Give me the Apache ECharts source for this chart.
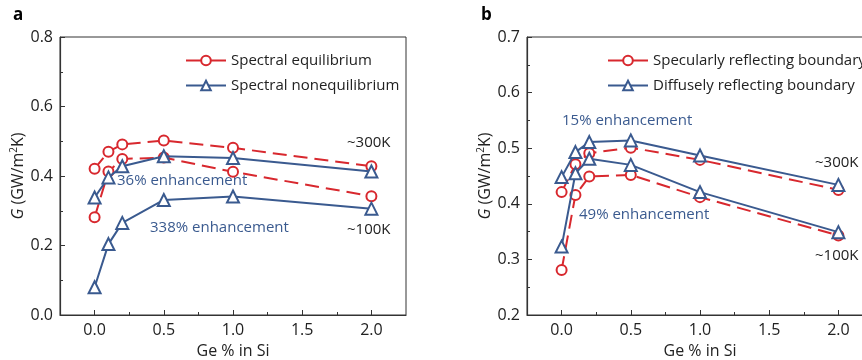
<!DOCTYPE html>
<html>
<head>
<meta charset="utf-8">
<script src="https://cdn.jsdelivr.net/npm/echarts@6/dist/echarts.min.js"></script>
<style>
  html, body { margin: 0; padding: 0; background: #fff; }
  #chart { width: 862px; height: 360px; }
</style>
</head>
<body>
<div id="chart"></div>
<script>
// Ge content (%) shared by both panels
const geX = [0, 0.1, 0.2, 0.5, 1.0, 2.0]
const xMajorTicks = [0, 0.5, 1.0, 1.5, 2.0]
const xMinorTicks = [0.25, 0.75, 1.25, 1.75]

// panel a
const aEq300 = [0.421, 0.470, 0.491, 0.502, 0.481, 0.428]
const aEq100 = [0.281, 0.413, 0.449, 0.453, 0.412, 0.342]
const aNon300 = [0.338, 0.396, 0.428, 0.457, 0.452, 0.413]
const aNon100 = [0.080, 0.204, 0.265, 0.331, 0.341, 0.306]

// panel b
const bSpec300 = [0.421, 0.471, 0.491, 0.501, 0.479, 0.425]
const bSpec100 = [0.281, 0.416, 0.449, 0.452, 0.412, 0.343]
const bDiff300 = [0.448, 0.493, 0.511, 0.514, 0.487, 0.434]
const bDiff100 = [0.323, 0.455, 0.481, 0.470, 0.421, 0.349]

const red = '#d8282e'
const blue = '#3a5a8f'
const ink = '#222'
const font = '"Open Sans", sans-serif'

function pairs(ys) {
  return geX.map((x, i) => [x, ys[i]])
}

function redSeries(name, ys, idx) {
  return {
    name: name,
    type: 'line',
    xAxisIndex: idx * 2,
    yAxisIndex: idx,
    data: pairs(ys),
    symbol: 'emptyCircle',
    symbolSize: 10,
    color: red,
    lineStyle: { color: red, width: 2, type: [14, 7] },
    itemStyle: { color: red, borderColor: red, borderWidth: 2 },
    emphasis: { disabled: true },
    z: 2,
  }
}

function blueSeries(name, ys, idx) {
  return {
    name: name,
    type: 'line',
    xAxisIndex: idx * 2,
    yAxisIndex: idx,
    data: pairs(ys),
    symbol: 'emptyTriangle',
    symbolSize: 12,
    color: blue,
    lineStyle: { color: blue, width: 2 },
    itemStyle: { color: blue, borderColor: blue, borderWidth: 2 },
    emphasis: { disabled: true },
    z: 3,
  }
}

function xAxes(gridIndex) {
  return [
    {
      type: 'value',
      gridIndex: gridIndex,
      min: -0.25,
      max: 2.25,
      name: 'Ge % in Si',
      nameLocation: 'middle',
      nameGap: 28,
      nameTextStyle: { fontFamily: font, fontSize: 16, color: ink },
      axisLine: { show: true, onZero: false, lineStyle: { color: '#333', width: 1.2 } },
      axisTick: { show: true, inside: true, length: 5, customValues: xMajorTicks, lineStyle: { color: '#333' } },
      axisLabel: {
        customValues: xMajorTicks,
        formatter: (v) => v.toFixed(1),
        fontFamily: font, fontSize: 16, color: ink, margin: 7,
      },
      splitLine: { show: false },
    },
    {
      type: 'value',
      gridIndex: gridIndex,
      min: -0.25,
      max: 2.25,
      position: 'bottom',
      axisLine: { show: false, onZero: false },
      axisTick: { show: true, inside: true, length: 3, customValues: xMinorTicks, lineStyle: { color: '#333' } },
      axisLabel: { show: false },
      splitLine: { show: false },
    },
  ]
}

function yAxis(gridIndex, min, max, interval) {
  return {
    type: 'value',
    gridIndex: gridIndex,
    min: min,
    max: max,
    interval: interval,
    name: '{i|G} (GW/m{sup|2}K)',
    nameLocation: 'middle',
    nameGap: 29,
    nameTextStyle: {
      fontFamily: font, fontSize: 16, color: ink,
      rich: {
        i: { fontFamily: font, fontSize: 16, fontStyle: 'italic', color: ink },
        sup: { fontFamily: font, fontSize: 10, color: ink, verticalAlign: 'bottom', padding: [0, 0, 8, 0] },
      },
    },
    axisLine: { show: true, onZero: false, lineStyle: { color: '#333', width: 1.2 } },
    axisTick: { show: true, inside: true, length: 5, lineStyle: { color: '#333' } },
    minorTick: { show: true, splitNumber: 2, length: 3, lineStyle: { color: '#333' } },
    axisLabel: {
      formatter: (v) => v.toFixed(1),
      fontFamily: font, fontSize: 16, color: ink, margin: 7,
    },
    splitLine: { show: false },
  }
}

function note(text, x, y, color) {
  return {
    type: 'text',
    left: x,
    top: y,
    style: { text: text, fill: color, font: '15px ' + font },
  }
}

const legendText = { fontFamily: font, fontSize: 15, color: ink }

const option = {
  animation: false,
  backgroundColor: '#fff',
  grid: [
    { left: 60, top: 37, width: 346, height: 278, outerBoundsMode: 'none', show: true, borderColor: '#333', borderWidth: 1 },
    { left: 527, top: 37, width: 346, height: 278, outerBoundsMode: 'none', show: true, borderColor: '#333', borderWidth: 1 },
  ],
  xAxis: [...xAxes(0), ...xAxes(1)],
  yAxis: [yAxis(0, 0, 0.8, 0.2), yAxis(1, 0.2, 0.7, 0.1)],
  legend: [
    {
      orient: 'vertical',
      left: 180, top: 48,
      itemWidth: 40, itemHeight: 12, itemGap: 10,
      textStyle: legendText,
      lineStyle: { type: 'solid' },
      data: ['Spectral equilibrium', 'Spectral nonequilibrium'],
      selectedMode: false,
    },
    {
      orient: 'vertical',
      left: 602, top: 48,
      itemWidth: 40, itemHeight: 12, itemGap: 10,
      textStyle: legendText,
      lineStyle: { type: 'solid' },
      data: ['Specularly reflecting boundary', 'Diffusely reflecting boundary'],
      selectedMode: false,
    },
  ],
  series: [
    redSeries('Spectral equilibrium', aEq300, 0),
    redSeries('Spectral equilibrium', aEq100, 0),
    blueSeries('Spectral nonequilibrium', aNon300, 0),
    blueSeries('Spectral nonequilibrium', aNon100, 0),
    redSeries('Specularly reflecting boundary', bSpec300, 1),
    redSeries('Specularly reflecting boundary', bSpec100, 1),
    blueSeries('Diffusely reflecting boundary', bDiff300, 1),
    blueSeries('Diffusely reflecting boundary', bDiff100, 1),
  ],
  graphic: [
    { type: 'text', left: 13, top: 7, style: { text: 'a', fill: '#000', font: 'bold 17px ' + font } },
    { type: 'text', left: 481, top: 7, style: { text: 'b', fill: '#000', font: 'bold 17px ' + font } },
    note('~300K', 347, 135, ink),
    note('~100K', 347, 222, ink),
    note('36% enhancement', 117, 173, blue),
    note('338% enhancement', 150, 220, blue),
    note('~300K', 815, 155, ink),
    note('~100K', 815, 248, ink),
    note('15% enhancement', 562, 113, blue),
    note('49% enhancement', 579, 207, blue),
  ],
}

const myChart = echarts.init(document.getElementById('chart'))
myChart.setOption(option)
</script>
</body>
</html>
